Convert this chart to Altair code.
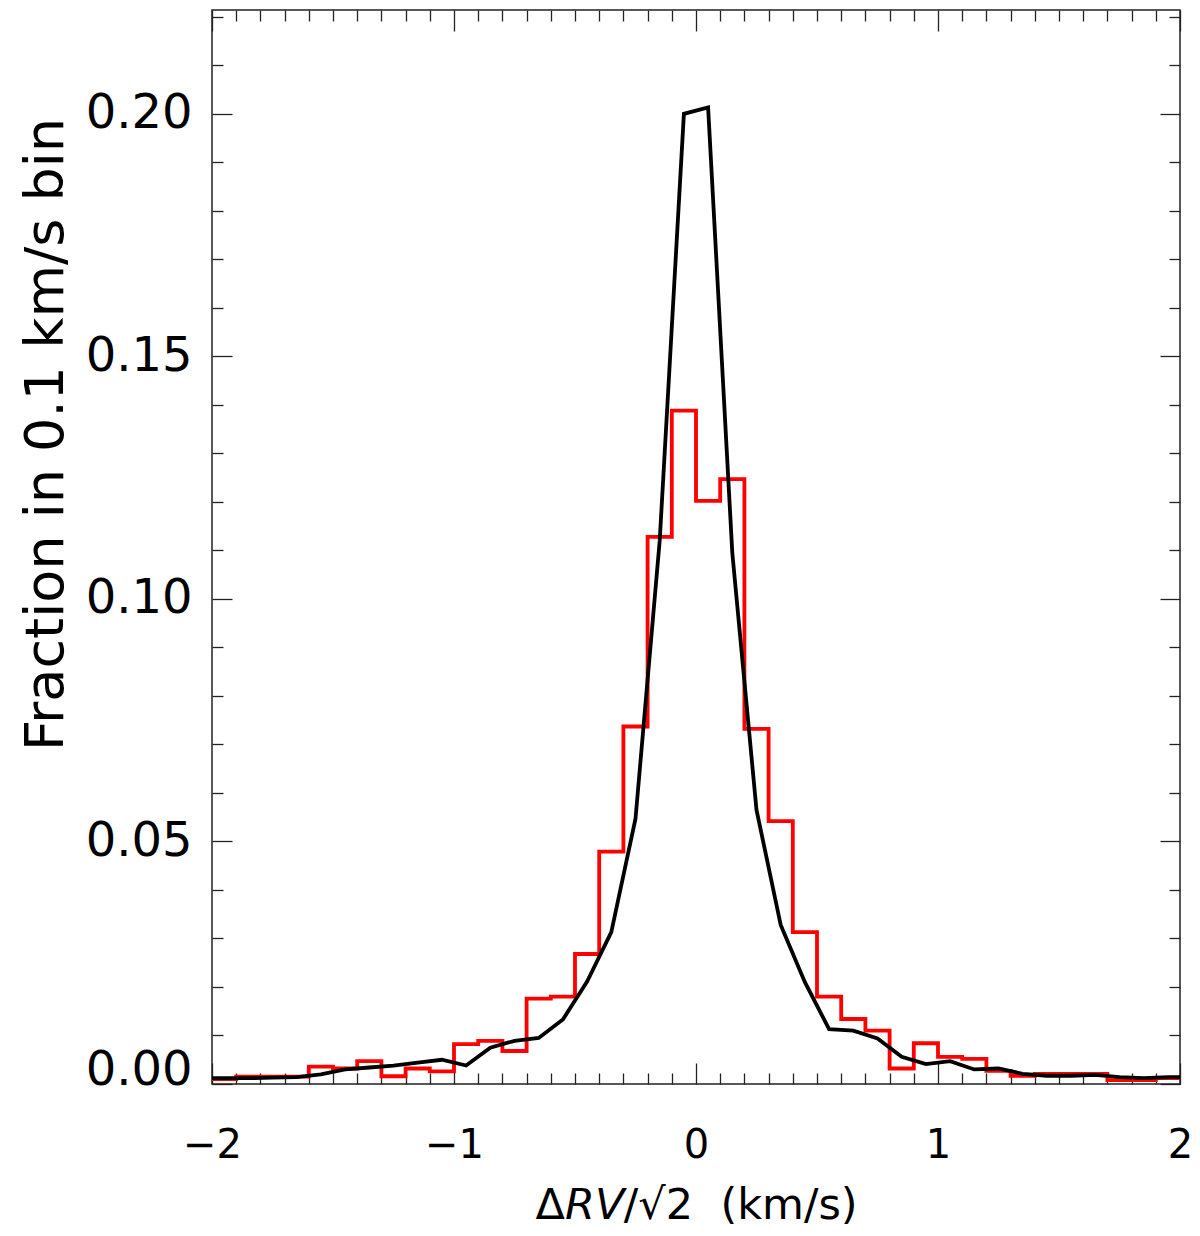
import altair as alt
import pandas as pd

# ---- data ----
# red histogram: left bin edges (0.1 km/s bins) and fractions
bin_left = [-2.0, -1.9, -1.8, -1.7, -1.6, -1.5, -1.4, -1.3, -1.2, -1.1,
            -1.0, -0.9, -0.8, -0.7, -0.6, -0.5, -0.4, -0.3, -0.2, -0.1,
            0.0, 0.1, 0.2, 0.3, 0.4, 0.5, 0.6, 0.7, 0.8, 0.9,
            1.0, 1.1, 1.2, 1.3, 1.4, 1.5, 1.6, 1.7, 1.8, 1.9]
red_frac = [0.0010, 0.0015, 0.0015, 0.0015, 0.0036, 0.0032, 0.0047, 0.0016, 0.0032, 0.0026,
            0.0082, 0.0089, 0.0068, 0.0176, 0.0180, 0.0268, 0.0479, 0.0737, 0.1128, 0.1388,
            0.1202, 0.1247, 0.0732, 0.0542, 0.0313, 0.0180, 0.0134, 0.0110, 0.0032, 0.0084,
            0.0056, 0.0052, 0.0027, 0.0017, 0.0021, 0.0021, 0.0021, 0.0008, 0.0008, 0.0012]
hist_right_edge = 2.0

# black model curve: bin centres and fractions
black_x = [-2.05, -1.95, -1.85, -1.75, -1.65, -1.55, -1.45, -1.35, -1.25, -1.15, -1.05,
           -0.95, -0.85, -0.75, -0.65, -0.55, -0.45, -0.35, -0.25, -0.15, -0.05,
           0.05, 0.15, 0.25, 0.35, 0.45, 0.55, 0.65, 0.75, 0.85, 0.95,
           1.05, 1.15, 1.25, 1.35, 1.45, 1.55, 1.65, 1.75, 1.85, 1.95, 2.05]
black_frac = [0.0012, 0.0012, 0.0012, 0.0013, 0.0014, 0.0020, 0.0030, 0.0034, 0.0038, 0.0044, 0.0050,
              0.0038, 0.0075, 0.0089, 0.0095, 0.0133, 0.0211, 0.0313, 0.0547, 0.1120, 0.2000,
              0.2013, 0.1095, 0.0565, 0.0328, 0.0210, 0.0113, 0.0110, 0.0094, 0.0056, 0.0041,
              0.0047, 0.0030, 0.0032, 0.0021, 0.0017, 0.0017, 0.0019, 0.0014, 0.0012, 0.0014, 0.0014]

# axis ticks
x_major = [-2, -1, 0, 1, 2]
x_minor = [round(-2.0 + 0.1 * i, 1) for i in range(41)]
y_major = [0.0, 0.05, 0.10, 0.15, 0.20]
y_minor = [round(0.01 * i, 2) for i in range(23)]

x_title = "\u0394\U0001D619\U0001D61D/\u221A2\u00A0\u00A0(km/s)"
y_title = "Fraction in 0.1 km/s bin"

red_df = pd.DataFrame({"x": bin_left + [hist_right_edge], "f": red_frac + [red_frac[-1]]})
black_df = pd.DataFrame({"x": black_x, "f": black_frac})

W, H = 968, 1074
xs = alt.Scale(domain=[-2, 2], nice=False, zero=False)
ys = alt.Scale(domain=[0, 0.2214], nice=False, zero=False)

xmaj_test = "abs(datum.value - round(datum.value)) < 0.001"
ymaj_test = "abs(datum.value * 20 - round(datum.value * 20)) < 0.001"
x_ticksize = {"condition": {"test": xmaj_test, "value": 21}, "value": 11}
y_ticksize = {"condition": {"test": ymaj_test, "value": 20}, "value": 11}

def tick_axis(orient, offset, values, ticksize):
    return alt.Axis(orient=orient, offset=offset, values=values, labels=False, domain=False,
                    ticks=True, tickSize=ticksize, tickColor="#222222", tickWidth=1.3,
                    grid=False, title=None)

red = alt.Chart(red_df).mark_line(color="#ff0000", strokeWidth=3.8, interpolate="step-after",
                                   clip=True).encode(
    x=alt.X("x:Q", scale=xs, axis=alt.Axis(
        orient="bottom", values=x_major, format="d", ticks=False, tickSize=0, domain=False,
        grid=False, labelFont="DejaVu Sans", labelFontSize=40, labelColor="black",
        labelPadding=73, labelBaseline="alphabetic", labelAlign="center", labelFlush=False,
        labelOverlap=False, title=x_title, titleFont="DejaVu Sans", titleFontSize=43,
        titleFontWeight="normal", titleColor="black", titleX=W / 2, titleY=134,
        titleAlign="center", titleBaseline="alphabetic")),
    y=alt.Y("f:Q", scale=ys, axis=alt.Axis(
        orient="left", values=y_major, format=".2f", ticks=False, tickSize=0, domain=False,
        grid=False, labelFont="DejaVu Sans", labelFontSize=48, labelColor="black",
        labelPadding=20, labelAlign="right", labelFlush=False, labelOverlap=False,
        labelBaseline={"condition": {"test": "datum.value < 0.001", "value": "alphabetic"},
                       "value": "middle"},
        title=y_title, titleFont="DejaVu Sans", titleFontSize=54, titleFontWeight="normal",
        titleColor="black", titleAngle=270, titleX=-150, titleY=424, titleAlign="center",
        titleBaseline="alphabetic")),
)

black = alt.Chart(black_df).mark_line(color="black", strokeWidth=3.8, clip=True).encode(
    x=alt.X("x:Q", scale=xs, axis=tick_axis("top", -H, x_minor, x_ticksize)),
    y=alt.Y("f:Q", scale=ys, axis=tick_axis("right", -W, y_minor, y_ticksize)),
)

frame = alt.Chart(black_df).mark_line(opacity=0, clip=True).encode(
    x=alt.X("x:Q", scale=xs, axis=tick_axis("bottom", -H, x_minor, x_ticksize)),
    y=alt.Y("f:Q", scale=ys, axis=tick_axis("left", -W, y_minor, y_ticksize)),
)

chart = alt.layer(red, black, frame).resolve_axis(
    x="independent", y="independent"
).properties(
    width=W, height=H,
    autosize=alt.AutoSizeParams(type="none"),
    padding={"left": 204, "top": 2, "right": 12, "bottom": 144},
    background="white",
).configure_view(stroke="#222222", strokeWidth=1.5)

chart.save("out.html", embed_options={"renderer": "svg", "actions": False})
